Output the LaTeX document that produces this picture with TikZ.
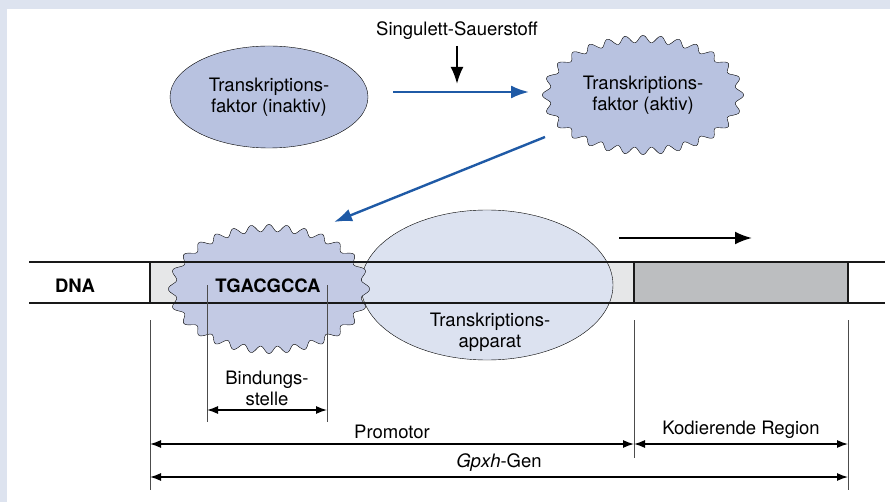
\documentclass[tikz,border=0pt]{standalone}
\usepackage{fontspec}
\setmainfont{TeX Gyre Heros}
\usetikzlibrary{shapes.geometric,arrows.meta}
\definecolor{bandblue}{HTML}{DDE3EF}
\definecolor{factorfill}{HTML}{B8C2E0}
\definecolor{boundfill}{HTML}{C3CAE4}
\definecolor{apparatfill}{HTML}{DCE2F0}
\definecolor{arrowblue}{HTML}{1F5AA6}
\definecolor{promfill}{HTML}{E6E7E8}
\definecolor{codfill}{HTML}{BCBEC0}
\begin{document}
\begin{tikzpicture}[x=1pt,y=-1pt,
	txt/.style={ align=center, inner sep=0pt, font=\fontsize{18.5}{21}\selectfont },
	boldtxt/.style={ txt, font=\fontsize{18.5}{21}\selectfont\bfseries },
	factor/.style={ ellipse, draw, thin, fill=factorfill, minimum width=198pt, minimum height=102pt, inner sep=0pt },
	apparat/.style={ ellipse, draw, thin, fill=apparatfill, minimum width=252pt, minimum height=150pt },
	dnaline/.style={ line width=2.3pt, black!90 },
	dim/.style={ line width=1pt, black!70 },
	dimarrow/.style={ line width=1.3pt, {Latex[length=11pt,width=8pt]}-{Latex[length=11pt,width=8pt]} },
	bluearrow/.style={ line width=2.4pt, arrowblue, -{Latex[length=18pt,width=13pt]} },
	blackarrow/.style={ line width=2.2pt, -{Latex[length=17pt,width=13pt]} }
]
\useasboundingbox (0,0) rectangle (890,502);
\fill[bandblue] (0,0) rectangle (890,502);
\fill[white] (7,9) rectangle (890,502);

% DNA boxes
\fill[promfill] (150,262) rectangle (634,303);
\fill[codfill] (634,262) rectangle (848,303);

\node at (487,285) (apparat) [apparat] {};
\foreach \cx/\cy/\b/\col in {643/95/56/factorfill, 269/289/61/boundfill}
	\draw[thin, fill=\col] plot[domain=0:360, samples=721]
		({\cx+(97+3.6*cos(28*(\x-7.4*sin(2*\x))))*cos(\x)}, {\cy+(\b+3.6*cos(28*(\x-7.4*sin(2*\x))))*sin(\x)}) -- cycle;

\coordinate (dnaTL) at (29,262);
\coordinate (dnaTR) at (885,262);
\coordinate (dnaBL) at (29,303);
\coordinate (dnaBR) at (885,303);
\draw[dnaline] (dnaTL) -- (dnaTR);
\draw[dnaline] (dnaBL) -- (dnaBR);
\foreach \x in {150,634,848} \draw[dnaline] (\x,262) -- (\x,303);

\node at (269,97) (inaktiv) [factor] {};
\node at (inaktiv) (inaktivtxt) [txt] {Transkriptions-\\faktor (inaktiv)};
\node at (643,95) (aktiv) [txt] {Transkriptions-\\faktor (aktiv)};
\node at (457,31) (sauer) [txt] {Singulett-Sauerstoff};
\node at (490,332) (appartxt) [txt] {Transkriptions-\\apparat};
\node at (75,286) (dna) [boldtxt] {DNA};
\node at (268,286) (seq) [boldtxt] {TGACGCCA};

% dimension lines
\foreach \x/\ya/\yb in {150/320/490, 634/320/458, 848/320/490, 207/285/422, 327/285/422}
	\draw[dim] (\x,\ya) -- (\x,\yb);
\coordinate (bsL) at (207,410);
\coordinate (bsR) at (327,410);
\coordinate (promL) at (150,444);
\coordinate (promR) at (634,444);
\coordinate (codR) at (848,444);
\coordinate (genL) at (150,477);
\coordinate (genR) at (848,477);
\draw[dimarrow] (bsL) -- (bsR);
\node at (267,388) (bindtxt) [txt] {Bindungs-\\stelle};
\draw[dimarrow] (promL) -- node[txt, above=5pt] (promtxt) {Promotor} (promR);
\draw[dimarrow] (promR) -- node[txt, above=5pt] (codtxt) {Kodierende Region} (codR);
\draw[dimarrow] (genL) -- node[txt, above=5pt] (gentxt) {\textit{Gpxh}-Gen} (genR);

% arrows
\coordinate (blueA) at (393,92);
\coordinate (blueB) at (529,92);
\draw[bluearrow] (blueA) -- (blueB);
\coordinate (oxA) at (457,46);
\coordinate (oxB) at (457,84);
\draw[blackarrow] (oxA) -- (oxB);
\coordinate (diagA) at (545,137);
\coordinate (diagB) at (334,222);
\draw[bluearrow] (diagA) -- (diagB);
\coordinate (trA) at (619,238);
\coordinate (trB) at (752,238);
\draw[blackarrow] (trA) -- (trB);

\end{tikzpicture}
\end{document}
